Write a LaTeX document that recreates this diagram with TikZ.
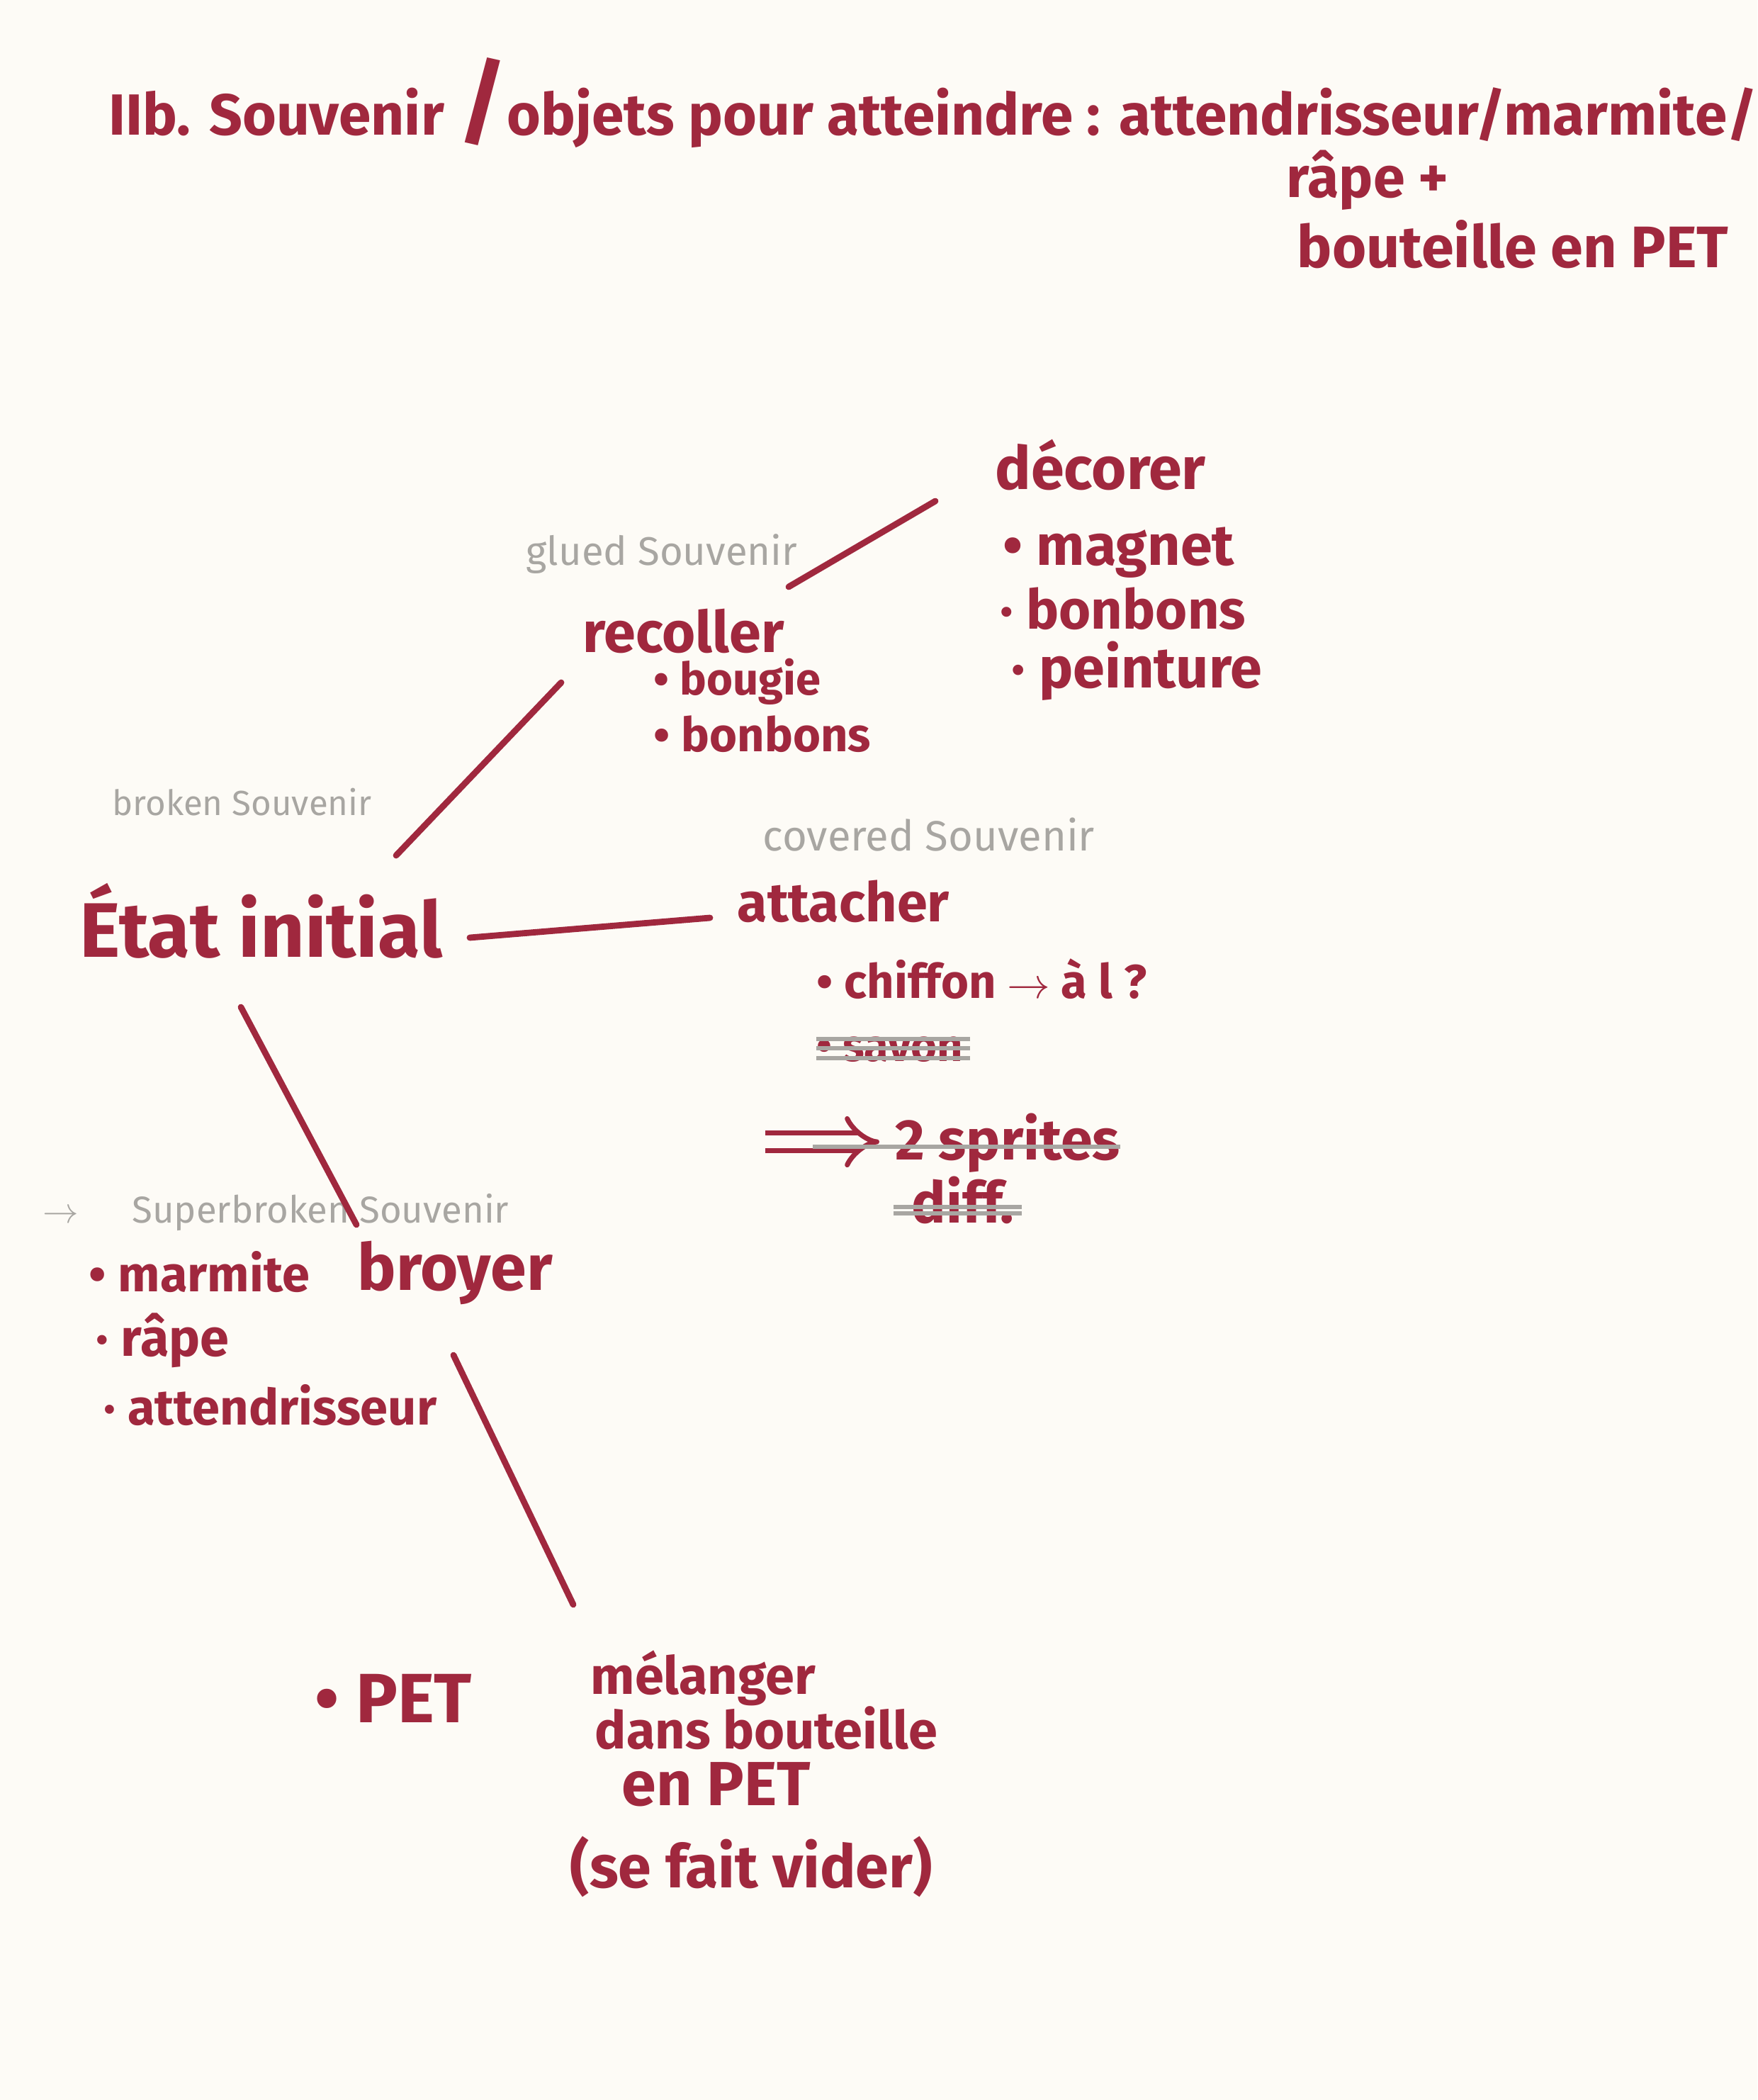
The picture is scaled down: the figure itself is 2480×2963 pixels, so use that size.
\documentclass[tikz,border=0pt]{standalone}
\usepackage{fontspec}
\setmainfont{Fira Sans}
\usetikzlibrary{calc,arrows.meta}
\definecolor{inkred}{RGB}{160,40,62}
\definecolor{pencilgrey}{RGB}{168,166,162}
\definecolor{paper}{RGB}{253,251,246}

\begin{document}
\begin{tikzpicture}[x=0.01cm,y=-0.01cm,
    ink/.style={text=inkred,font=\bfseries\fontsize{#1}{#1}\selectfont,anchor=base west,inner sep=0pt},
    ink/.default=22,
    note/.style={text=pencilgrey,font=\fontsize{#1}{#1}\selectfont,anchor=base west,inner sep=0pt},
    note/.default=15,
    link/.style={draw=inkred,line width=2.5pt,line cap=round},
    strike/.style={draw=pencilgrey,line width=1.6pt}]
  \fill[paper] (0,0) rectangle (2480,2963);

  % title
  \node[ink=23.3] (title) at (153,190) {IIb. Souvenir {\fontsize{38}{38}\selectfont/}objets pour atteindre : attendrisseur/marmite/};
  \node[ink=23] (rape) at (1815,278) {râpe +};
  \node[ink=23.5] (bouteille) at (1830,377) {bouteille en PET};

  % glued
  \node[ink=24] (decorer) at (1404,690) {décorer};
  \node[ink=23] (magnet) at (1415,797) {• magnet};
  \node[ink=22] (bonbonsd) at (1411,887) {· bonbons};
  \node[ink=23] (peinture) at (1427,970) {· peinture};
  \node[note=16] (glued) at (742,797) {glued Souvenir};
  \node[ink=23] (recoller) at (822,920) {recoller};
  \node[ink=18] (bougie) at (922,980) {• bougie};
  \node[ink=19] (bonbonsr) at (922,1060) {• bonbons};

  % initial
  \node[note=14] (broken) at (158,1150) {broken Souvenir};
  \node[ink=31] (etat) at (112,1350) {État initial};

  % covered
  \node[note=17] (covered) at (1076,1200) {covered Souvenir};
  \node[ink=22] (attacher) at (1040,1300) {attacher};
  \node[ink=19] (chiffon) at (1152,1408) {• chiffon $\rightarrow$ à l ?};
  \node[ink=18] (savon) at (1152,1497) {• savon};
  \node[ink=23] (sprites) at (1263,1636) {2 sprites};
  \node[ink=23] (diff) at (1286,1725) {diff.};

  % superbroken
  \node[note=15] (superbroken) at (60,1725) {$\rightarrow$\hspace{0.75cm}Superbroken Souvenir};
  \node[ink=20] (marmite) at (125,1822) {• marmite};
  \node[ink=26] (broyer) at (504,1820) {broyer};
  \node[ink=21] (rape2) at (135,1913) {· râpe};
  \node[ink=20] (attendrisseur) at (146,2010) {· attendrisseur};
  \node[ink=28] (pet) at (444,2430) {• PET};
  \node[ink=21] (melanger) at (833,2390) {mélanger};
  \node[ink=21] (dans) at (839,2467) {dans bouteille};
  \node[ink=25] (enpet) at (877,2547) {en PET};
  \node[ink=24] (vider) at (804,2663) {(se fait vider)};

  \draw[link] ($(etat.base west)+(447,-143)$) -- ($(recoller.base west)+(-30,43)$);
  \draw[link] ($(recoller.base west)+(291,-92)$) -- ($(decorer.base west)+(-84,17)$);
  \draw[link] ($(etat.base west)+(551,-27)$) -- ($(attacher.base west)+(-38,-5)$);
  \draw[link] ($(etat.base west)+(228,71)$) -- ($(broyer.base west)+(-1,-92)$);
  \draw[link] ($(broyer.base west)+(136,92)$) -- ($(melanger.base west)+(-24,-126)$);
  \draw[link,line cap=butt,line width=2pt,double=paper,double distance=5pt,-{Implies}]
    ($(sprites.base west)+(-183,-25)$) -- ($(sprites.base west)+(-22,-25)$);

  \foreach \dy in {-31,-18,-4}
    \draw[strike] ($(savon.base west)+(0,\dy)$) -- ($(savon.base east)+(10,\dy)$);
  \draw[strike] ($(sprites.base west)+(-116,-18)$) -- ($(sprites.base east)+(0,-18)$);
  \foreach \dy in {-22,-13}
    \draw[strike] ($(diff.base west)+(-25,\dy)$) -- ($(diff.base east)+(10,\dy)$);
\end{tikzpicture}
\end{document}
